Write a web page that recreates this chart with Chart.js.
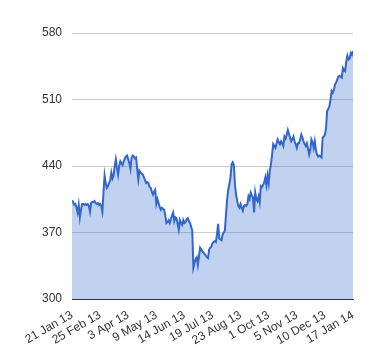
<!DOCTYPE html>
<html>
<head>
<meta charset="utf-8">
<script src="https://cdn.jsdelivr.net/npm/chart.js@4"></script>
<style>
  body { margin: 0; background: #fff; }
  #wrap { width: 380px; height: 360px; position: relative; }
</style>
</head>
<body>
<div id="wrap"><canvas id="areaChart"></canvas></div>
<script>
// Valores diários (índice do pregão)
var valores = [
  404, 402, 399, 400, 396, 391, 399, 386, 394, 400,
  400, 399, 400, 399, 400, 398, 392, 401, 402, 402,
  403, 401, 400, 401, 399, 400, 398, 392, 412, 430,
  422, 417, 419, 422, 425, 433, 427, 430, 440, 447,
  438, 431, 440, 445, 443, 441, 445, 448, 450, 451,
  447, 443, 437, 449, 451, 450, 448, 449, 437, 426,
  435, 433, 432, 431, 428, 425, 422, 423, 422, 418,
  417, 413, 410, 413, 415, 400, 405, 401, 397, 394,
  396, 395, 394, 388, 380, 381, 383, 380, 384, 388,
  391, 382, 386, 385, 379, 373, 383, 380, 378, 383,
  380, 381, 384, 385, 382, 380, 376, 372, 333, 338,
  342, 344, 336, 345, 354, 352, 350, 349, 347, 346,
  344, 343, 352, 354, 355, 359, 360, 361, 360, 368,
  379, 364, 363, 362, 368, 370, 372, 389, 405, 415,
  421, 428, 442, 444, 441, 420, 410, 403, 398, 396,
  400, 396, 393, 398, 399, 398, 400, 408, 405, 412,
  409, 407, 391, 412, 405, 403, 408, 402, 419, 418,
  420, 423, 428, 420, 430, 422, 435, 442, 452, 463,
  461, 459, 464, 468, 465, 463, 466, 464, 461, 471,
  469, 473, 478, 474, 470, 466, 468, 471, 466, 463,
  459, 464, 464, 468, 473, 470, 466, 463, 461, 464,
  458, 452, 457, 468, 465, 459, 466, 457, 452, 450,
  451, 450, 449, 470, 471, 473, 480, 498, 500, 503,
  510, 519, 517, 520, 526, 528, 531, 534, 535, 534,
  533, 543, 541, 540, 550, 556, 552, 553, 559, 557,
  561
];

// Rótulos do eixo X (um a cada 25 pregões)
var rotulosX = ['21 Jan 13', '25 Feb 13', '3 Apr 13', '9 May 13', '14 Jun 13',
  '19 Jul 13', '23 Aug 13', '1 Oct 13', '5 Nov 13', '10 Dec 13', '17 Jan 14'];
var passoX = 25;

// Eixo Y
var minY = 300;
var maxY = 580;
var passoY = 70;

var pontos = valores.map((v, i) => ({ x: i, y: v }));

var fonte = { family: '"Liberation Sans", Arial, sans-serif', size: 12 };

var ctx = document.getElementById('areaChart').getContext('2d');
var grafico = new Chart(ctx, {
    type: 'line',
    data: {
        datasets: [{
            data: pontos,
            borderColor: '#3366cc',
            backgroundColor: 'rgba(51,102,204,0.3)',
            borderWidth: 2,
            pointRadius: 0,
            fill: 'start',
            tension: 0
        }]
    },
    options: {
        responsive: true,
        maintainAspectRatio: false,
        animation: false,
        layout: { padding: { left: 0, top: 33, right: 27, bottom: 0 } },
        plugins: { legend: { display: false }, tooltip: { enabled: false } },
        scales: {
            x: {
                type: 'linear',
                min: 0,
                max: (rotulosX.length - 1) * passoX,
                grid: { display: false, drawTicks: false },
                border: { display: true, color: '#333', width: 1 },
                ticks: {
                    stepSize: passoX,
                    autoSkip: false,
                    maxRotation: 30,
                    minRotation: 30,
                    padding: 9,
                    color: '#333',
                    font: fonte,
                    callback: v => rotulosX[v / passoX]
                },
                afterFit: s => { s.height = 61; }
            },
            y: {
                min: minY,
                max: maxY,
                grid: {
                    drawTicks: false,
                    color: c => c.tick && c.tick.value === minY ? 'rgba(0,0,0,0)' : '#cccccc'
                },
                border: { display: false },
                ticks: {
                    stepSize: passoY,
                    padding: 10,
                    color: '#333',
                    font: fonte
                },
                afterFit: s => { s.width = 72; }
            }
        }
    }
});
</script>
</body>
</html>
